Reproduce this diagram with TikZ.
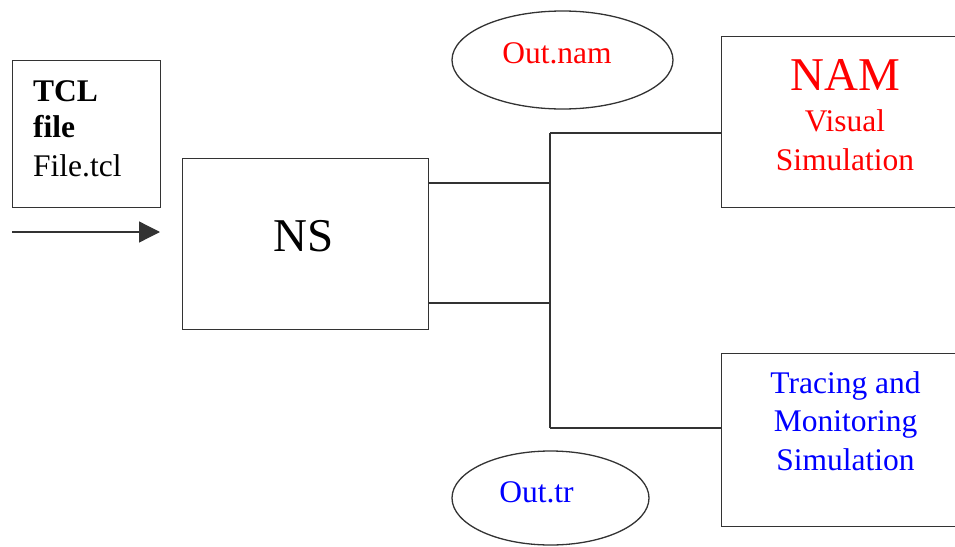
\documentclass[tikz,border=0pt]{standalone}
\usepackage{fontspec}
\setmainfont{Liberation Serif}
\usetikzlibrary{shapes.geometric,arrows.meta}
\definecolor{linegray}{HTML}{333333}
\begin{document}
\begin{tikzpicture}[x=1pt,y=-1pt,
  box/.style={draw=linegray,line width=1.3pt,rectangle,inner sep=0pt,anchor=north west},
  oval/.style={draw=linegray,line width=1.3pt,ellipse,inner sep=0pt},
  conn/.style={draw=linegray,line width=1.3pt},
  txt/.style={inner sep=0pt,font=\fontsize{31.5}{38}\selectfont},
  bigtxt/.style={inner sep=0pt,font=\fontsize{47}{52}\selectfont}]
\useasboundingbox (0,0) rectangle (955,546);
% boxes
\node[box,minimum width=148pt,minimum height=147pt] (tcl) at (12,60) {};
\node[box,minimum width=246pt,minimum height=171pt] (ns) at (182,158) {};
\node[box,minimum width=262pt,minimum height=171pt] (nam) at (721,36) {};
\node[box,minimum width=262pt,minimum height=173pt] (trace) at (721,353) {};
% ellipses
\node[oval,minimum width=221pt,minimum height=98pt] (onam) at (562.5,60) {};
\node[oval,minimum width=197pt,minimum height=94pt] (otr) at (550.5,498) {};
% texts
\node[txt,anchor=base west] (t1) at (33,101.7) {\bfseries TCL};
\node[txt,anchor=base west] (t2) at (33,137) {\bfseries file};
\node[txt,anchor=base west] (t3) at (33,176.7) {File.tcl};
\node[bigtxt,anchor=base] (tns) at (304,251.7) {NS};
\node[bigtxt,text=red,anchor=base] (tnam) at (845,90) {NAM};
\node[txt,text=red,anchor=base] (tvis) at (845,131.7) {Visual};
\node[txt,text=red,anchor=base] (tsim) at (845,170) {Simulation};
\node[txt,text=blue,anchor=base] (ttr) at (845.5,393) {Tracing and};
\node[txt,text=blue,anchor=base] (tmon) at (845.5,431.7) {Monitoring};
\node[txt,text=blue,anchor=base] (tsim2) at (845.5,470) {Simulation};
\node[txt,text=red,anchor=base] (tonam) at (557,63.3) {Out.nam};
\node[txt,text=blue,anchor=base] (totr) at (536.5,502.7) {Out.tr};
% connectors
\coordinate (a0) at (12,232);
\coordinate (a1) at (160,232);
\draw[conn,-{Triangle[length=21pt,width=21pt]}] (a0) -- (a1);
\coordinate (j1) at (550,183);
\coordinate (j2) at (550,303);
\coordinate (jt) at (550,133);
\coordinate (jb) at (550,428);
\draw[conn] (ns.east|-j1) -- (j1);
\draw[conn] (ns.east|-j2) -- (j2);
\draw[conn] (jt) -- (jb);
\draw[conn] (jt) -- (nam.west|-jt);
\draw[conn] (jb) -- (trace.west|-jb);
\end{tikzpicture}
\end{document}
